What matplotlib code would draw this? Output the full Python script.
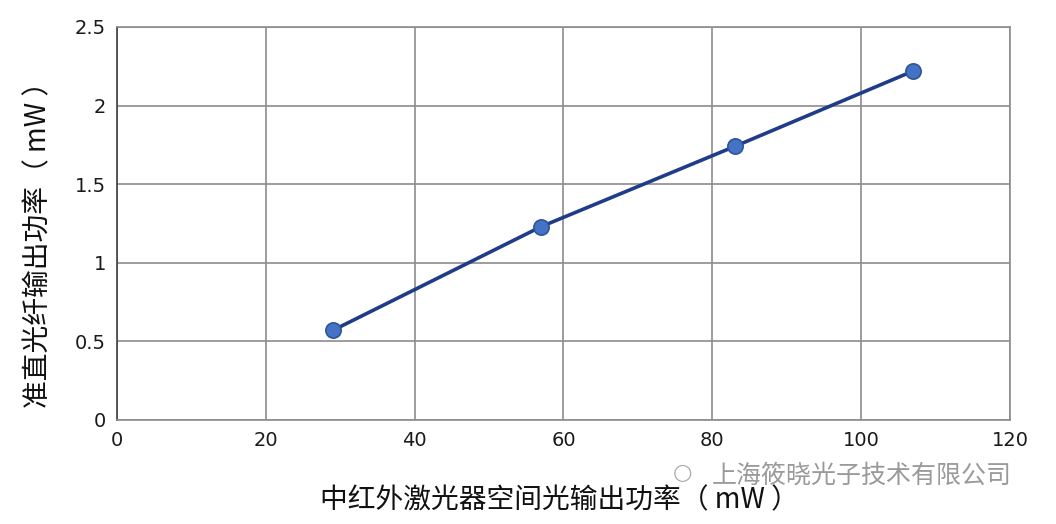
import matplotlib
matplotlib.use("Agg")
import matplotlib.pyplot as plt

plt.rcParams['font.family'] = ['Noto Sans CJK SC', 'DejaVu Sans']

x_vals = [29, 57, 83, 107]
y_vals = [0.57, 1.23, 1.74, 2.22]
x_ticks = [0, 20, 40, 60, 80, 100, 120]
y_ticks = [0, 0.5, 1, 1.5, 2, 2.5]
y_tick_labels = ['0', '0.5', '1', '1.5', '2', '2.5']
x_label = '中红外激光器空间光输出功率（ mW ）'
y_label = '准直光纤输出功率（ mW ）'
watermark = '上海筱晓光子技术有限公司'

fig = plt.figure(figsize=(10.56, 5.24), dpi=100)
ax = fig.add_axes([0.1108, 0.1985, 0.8456, 0.75])

ax.plot(x_vals, y_vals, color='#1F3C88', lw=2.6, marker='o', ms=11,
        markerfacecolor='#4472C4', markeredgecolor='#2F5597', markeredgewidth=1.2,
        zorder=3)

ax.set_xlim(0, 120)
ax.set_ylim(0, 2.5)
ax.set_xticks(x_ticks)
ax.set_yticks(y_ticks)
ax.set_yticklabels(y_tick_labels)
ax.grid(True, color='#8c8c8c', lw=1.2)
ax.set_axisbelow(True)
for s in ['top', 'right']:
    ax.spines[s].set_color('#8c8c8c')
    ax.spines[s].set_linewidth(1.2)
ax.spines['left'].set_color('#404040')
ax.spines['bottom'].set_color('#8c8c8c')
ax.spines['left'].set_linewidth(1.2)
ax.spines['bottom'].set_linewidth(1.2)
ax.tick_params(axis='both', length=0, labelsize=14, colors='#1a1a1a', pad=8)
for t in ax.get_xticklabels() + ax.get_yticklabels():
    t.set_family(['DejaVu Sans'])

fig.text(0.53, 0.045, x_label, ha='center', va='center', fontsize=20, color='#111111')
fig.text(0.036, 0.545, y_label, ha='center', va='center', fontsize=20, rotation=90,
         color='#111111')
fig.text(0.674, 0.093, watermark, ha='left', va='center', fontsize=18, color='#9a9a9a')
fig.text(0.646, 0.097, '\u25CB', ha='center', va='center', fontsize=16, color='#aaaaaa',
         family=['DejaVu Sans'])

fig.savefig('out.png', dpi=100)
